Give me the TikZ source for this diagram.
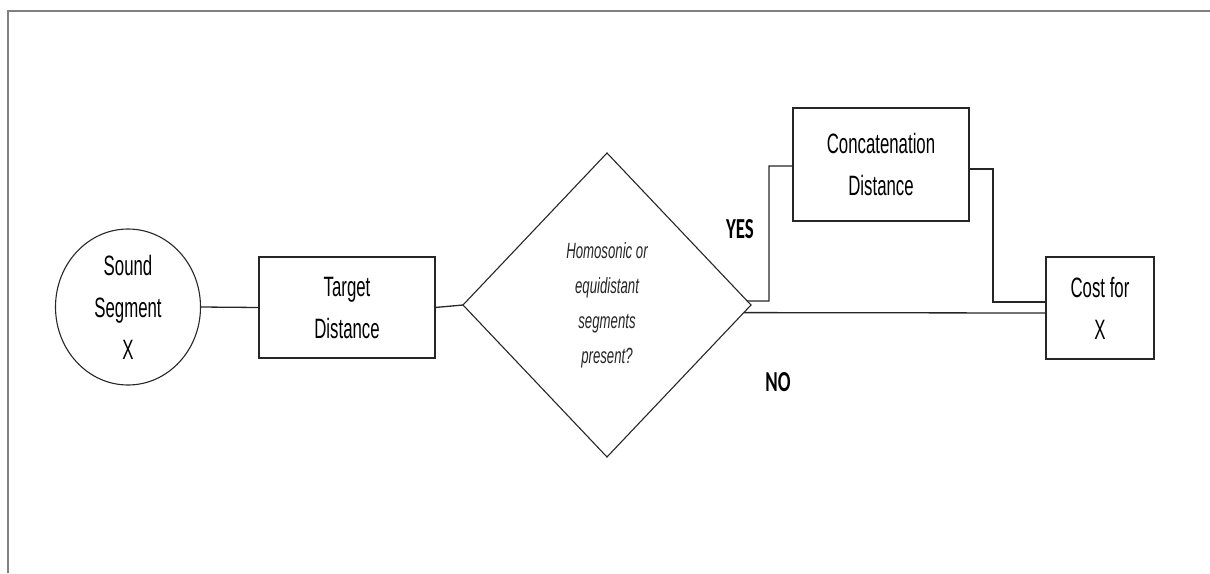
\documentclass[tikz,border=0pt]{standalone}
\usepackage{fontspec}
\usetikzlibrary{shapes.geometric,calc}
\newfontfamily\boxfont[FakeStretch=0.6]{Liberation Sans}
\newfontfamily\answerfont[FakeStretch=0.65]{Carlito}
\begin{document}
\begin{tikzpicture}[x=1pt,y=-1pt,
  every node/.style={inner sep=0pt, outer sep=0pt},
  conn/.style={draw=black!85, line width=1.3pt},
  frame/.style={draw=black!50, line width=2pt},
  boxtext/.style={font={\boxfont\fontsize{28}{42}\selectfont}, align=center, text=black},
  procbox/.style={draw=black!85, line width=1.3pt, rectangle, boxtext},
  decision/.style={draw=black!85, line width=1.1pt, diamond, minimum width=288pt, minimum height=304pt,
    font={\boxfont\itshape\fontsize{22}{35}\selectfont}, align=center, text=black!85},
  answer/.style={font={\answerfont\bfseries\fontsize{29}{30}\selectfont}, text=black}]
  % page area and frame
  \useasboundingbox (0,0) rectangle (1210,573);
  \draw[frame] (8,573) -- (8,11) -- (1210,11);

  % nodes
  \node[draw=black!85, line width=1.1pt, ellipse, minimum width=145pt, minimum height=156pt, boxtext]
    (sound) at (128,307) {Sound\\Segment\\X};
  \node[procbox, minimum width=176pt, minimum height=101pt] (target) at (347,307.5) {Target\\Distance};
  \node[decision] (dia) at (607,305) {Homosonic or\\equidistant\\segments\\present?};
  \node[procbox, minimum width=176pt, minimum height=113pt] (conc) at (881,164.5) {Concatenation\\Distance};
  \node[procbox, minimum width=108pt, minimum height=102pt] (cost) at (1100,308) {Cost for\\X};

  \node[answer] (yes) at (740,229) {YES};
  \node[answer] (no) at (778,382) {NO};

  % connectors
  \draw[conn] (sound.east) -- (target.west);
  \draw[conn] (target.east) -- (dia.west);
  \draw[conn] ($(dia.east)!0.027!(dia.north)$) -- (769,301) |- ([yshift=-1.5pt]conc.west);
  \draw[conn] ([yshift=-4.5pt]conc.east) -| (993,302) -- ([yshift=6pt]cost.west);
  \draw[conn] ($(dia.east)!0.05!(dia.south)$) -- ([yshift=-5pt]cost.west);
\end{tikzpicture}
\end{document}
